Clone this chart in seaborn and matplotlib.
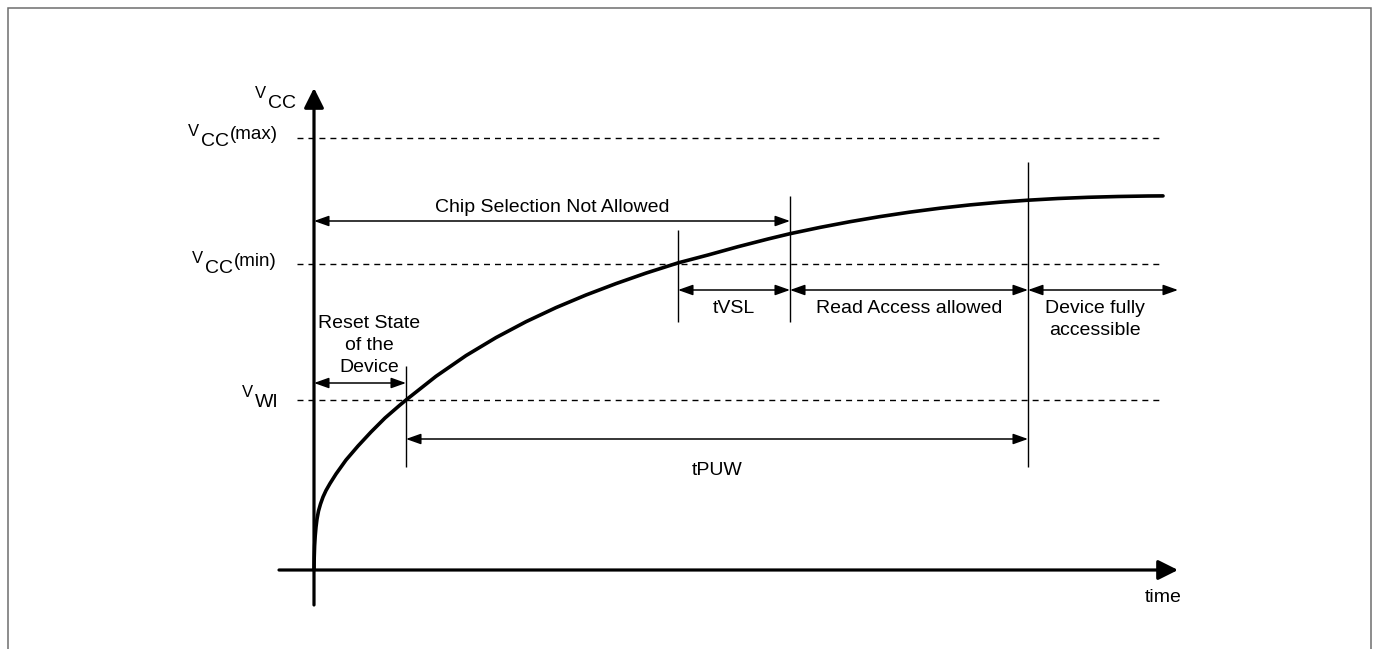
import matplotlib
matplotlib.use("Agg")
import matplotlib.pyplot as plt
from matplotlib.patches import Rectangle
import seaborn as sns

# supply voltage levels (arbitrary units)
level_names = ["WI", "CC(min)", "CC(max)"]
level_values = [1.70, 3.06, 4.32]

# time markers
t_reset = 0.92   # Vcc reaches V_WI
t_vmin = 3.64    # Vcc reaches Vcc(min)
t_chip = 4.76    # end of tVSL
t_full = 7.14    # end of tPUW

# power-up curve
curve_t = [0.00, 0.002, 0.006, 0.012, 0.02, 0.03, 0.045, 0.065, 0.09, 0.12,
           0.16, 0.22, 0.32, 0.44, 0.57, 0.71, 0.86, 0.92, 1.22, 1.52, 1.82,
           2.12, 2.42, 2.72, 3.02, 3.32, 3.64, 3.94, 4.24, 4.54, 4.76, 5.06,
           5.36, 5.66, 5.96, 6.26, 6.56, 6.86, 7.14, 7.44, 7.74, 8.04, 8.34, 8.49]
curve_v = [0.00, 0.12, 0.24, 0.34, 0.43, 0.51, 0.59, 0.66, 0.73, 0.795,
           0.865, 0.96, 1.10, 1.24, 1.38, 1.52, 1.65, 1.70, 1.937, 2.144,
           2.324, 2.483, 2.624, 2.75, 2.864, 2.969, 3.071, 3.15, 3.233,
           3.31, 3.363, 3.426, 3.483, 3.534, 3.579, 3.618, 3.651, 3.678,
           3.698, 3.715, 3.727, 3.735, 3.740, 3.741]

sns.set_style("white")
plt.rcParams["font.family"] = ["Liberation Sans", "DejaVu Sans"]
plt.rcParams["text.color"] = "black"

W, H = 1379, 649
PX = 0.01  # data units per pixel
ORIGIN = (314, 570)

fig = plt.figure(figsize=(W / 100, H / 100), dpi=100)
ax = fig.add_axes([0, 0, 1, 1])
ax.set_xlim(-ORIGIN[0] * PX, (W - ORIGIN[0]) * PX)
ax.set_ylim((ORIGIN[1] - H) * PX, ORIGIN[1] * PX)
ax.axis("off")

# outer frame
fig.patches.append(Rectangle((8 / W, -0.05), (W - 16) / W, 1.05 - 8 / H,
                             transform=fig.transFigure, fill=False,
                             edgecolor="#6e6e6e", lw=1.1))

FS = 14
x_end = curve_t[-1]

# dashed level lines
ax.hlines(level_values, -17 * PX, x_end, colors="black", lw=1.0,
          linestyles=(0, (4.3, 3.6)))

# main axes with arrow heads
axis_arrow = dict(arrowstyle="-|>,head_length=0.6,head_width=0.3", lw=2.3,
                  color="black", mutation_scale=20, shrinkA=0, shrinkB=0)
ax.annotate("", xy=(0, 4.82), xytext=(0, -0.35), arrowprops=axis_arrow)
ax.annotate("", xy=(x_end + 0.15, 0), xytext=(-0.35, 0), arrowprops=axis_arrow)

# the curve
sns.lineplot(x=curve_t, y=curve_v, color="black", lw=2.6, ax=ax,
             sort=False, estimator=None)

# vertical marker lines
v_wi, v_min, v_max = level_values
ax.vlines(t_reset, 1.03, v_wi + 0.34, colors="black", lw=1.0)
ax.vlines(t_vmin, 2.48, 3.40, colors="black", lw=1.0)
ax.vlines(t_chip, 2.48, 3.74, colors="black", lw=1.0)
ax.vlines(t_full, 1.03, 4.08, colors="black", lw=1.0)

dim = dict(arrowstyle="<|-|>,head_length=0.9,head_width=0.32", lw=1.1,
           color="black", mutation_scale=10, shrinkA=0, shrinkB=0)


def dim_arrow(x0, x1, y):
    ax.annotate("", xy=(x1, y), xytext=(x0, y), arrowprops=dim)


row_chip, row_reset, row_access, row_puw = 3.49, 1.87, 2.80, 1.31
dim_arrow(0, t_chip, row_chip)
dim_arrow(0, t_reset, row_reset)
dim_arrow(t_vmin, t_chip, row_access)
dim_arrow(t_chip, t_full, row_access)
dim_arrow(t_full, x_end + 0.15, row_access)
dim_arrow(t_reset, t_full, row_puw)

ax.text(t_chip / 2, row_chip + 0.09, "Chip Selection Not Allowed", fontsize=FS,
        ha="center", va="baseline")
ax.text(t_reset / 2 + 0.09, row_reset + 0.07, "Reset State\nof the\nDevice",
        fontsize=FS, ha="center", va="bottom", linespacing=1.38)
ax.text((t_vmin + t_chip) / 2, row_access - 0.10, "tVSL", fontsize=FS,
        ha="center", va="top")
ax.text((t_chip + t_full) / 2, row_access - 0.10, "Read Access allowed",
        fontsize=FS, ha="center", va="top")
ax.text(t_full + 0.67, row_access - 0.10, "Device fully\naccessible",
        fontsize=FS, ha="center", va="top", linespacing=1.38)
ax.text((t_reset + t_full) / 2, row_puw - 0.23, "tPUW", fontsize=FS,
        ha="center", va="top")
ax.text(x_end, -0.27, "time", fontsize=FS, ha="center", va="center")


# axis labels built from a small "V" and a larger subscript
def v_label(x_left, y_base, sub, extra=None):
    ax.text(x_left, y_base, "V", fontsize=12, ha="left", va="baseline")
    ax.text(x_left + 0.13, y_base - 0.10, sub, fontsize=FS, ha="left",
            va="baseline")
    if extra:
        ax.text(x_left + 0.42, y_base - 0.03, extra, fontsize=13.5, ha="left",
                va="baseline")


v_label(-0.59, 4.72, "CC")
v_label(-1.26, v_max + 0.02, "CC", "(max)")
v_label(-1.22, v_min + 0.01, "CC", "(min)")
v_label(-0.72, v_wi + 0.03, "WI")

fig.savefig("out.png", dpi=100)
